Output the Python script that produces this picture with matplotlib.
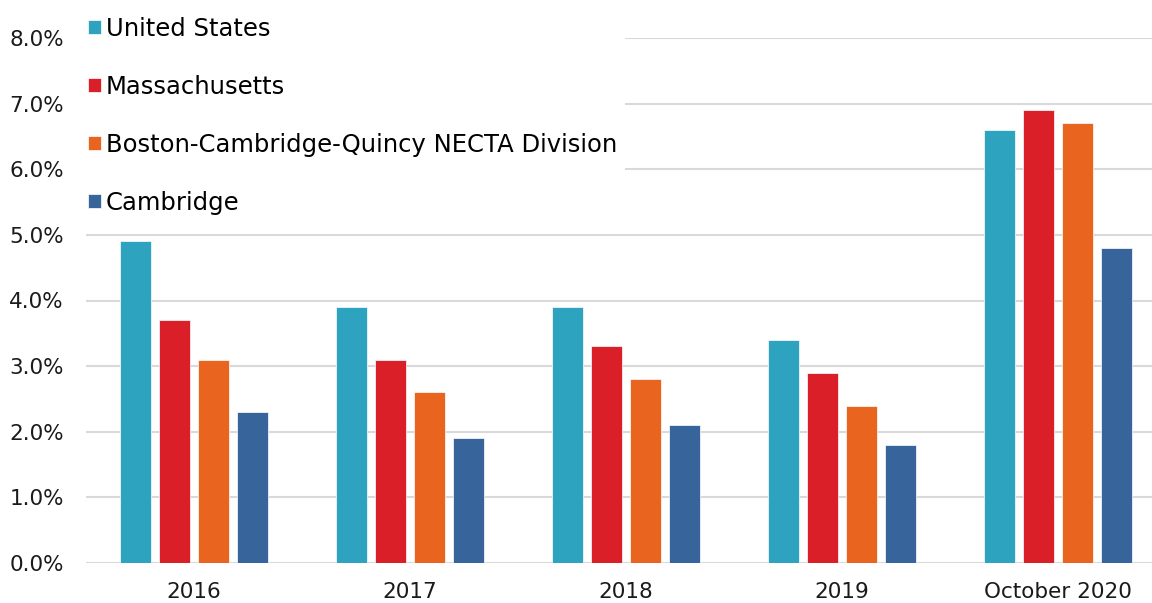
import numpy as np
import matplotlib.pyplot as plt

categories = ['2016', '2017', '2018', '2019', 'October 2020']
series_names = ['United States', 'Massachusetts',
                'Boston-Cambridge-Quincy NECTA Division', 'Cambridge']
us = [4.9, 3.9, 3.9, 3.4, 6.6]
ma = [3.7, 3.1, 3.3, 2.9, 6.9]
boston = [3.1, 2.6, 2.8, 2.4, 6.7]
cambridge = [2.3, 1.9, 2.1, 1.8, 4.8]
colors = ['#2DA3BF', '#DB1F29', '#E9641E', '#38649C']

plt.rcParams['font.family'] = ['DejaVu Sans']

fig = plt.figure(figsize=(11.52, 6.03), dpi=100)
ax = fig.add_axes([86 / 1152, 40 / 603, 1080 / 1152, 525 / 603])

x = np.arange(len(categories))
width = 0.1435
step = 0.18
for i, (vals, name, c) in enumerate(zip([us, ma, boston, cambridge], series_names, colors)):
    ax.bar(x + (i - 1.5) * step, vals, width, color=c, label=name,
           edgecolor='white', linewidth=0.5, zorder=3)

ax.set_xlim(-0.5, 4.5)
ax.set_ylim(0, 8)
ax.set_yticks(np.arange(0, 9, 1))
ax.set_yticklabels([f'{v:.1f}%' for v in range(9)])
ax.set_xticks(x)
ax.set_xticklabels(categories)
ax.grid(axis='y', color='#D9D9D9', linewidth=1.5, zorder=0)
ax.set_axisbelow(True)
for s in ax.spines.values():
    s.set_visible(False)
ax.tick_params(axis='both', length=0, labelsize=15.5, colors='#1a1a1a')
ax.tick_params(axis='y', pad=16)
ax.tick_params(axis='x', pad=14)

leg = ax.legend(loc='upper left', bbox_to_anchor=(79 / 1152, 1 - 8 / 603), bbox_transform=fig.transFigure,
                fontsize=17.5, frameon=True, facecolor='white', edgecolor='none', framealpha=1,
                handlelength=0.55, handleheight=0.55, handletextpad=0.2, labelspacing=1.4,
                borderpad=0.35, borderaxespad=0)
leg.set_zorder(5)

fig.savefig('out.png', dpi=100)
